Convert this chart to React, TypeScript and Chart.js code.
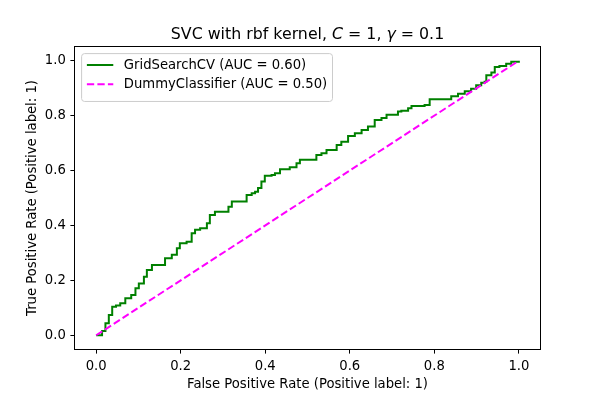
import React, { useEffect, useRef } from "react";
import { Chart, registerables } from "chart.js";

Chart.register(...registerables);

// ---- data ----
const gridFpr = [0, 0.014, 0.022, 0.030, 0.038, 0.047, 0.057, 0.069, 0.083, 0.093, 0.101, 0.113, 0.120, 0.132, 0.151, 0.163, 0.179, 0.191, 0.198, 0.214, 0.226, 0.234, 0.246, 0.262, 0.269, 0.281, 0.301, 0.313, 0.321, 0.352, 0.356, 0.368, 0.376, 0.383, 0.391, 0.399, 0.415, 0.423, 0.435, 0.458, 0.474, 0.482, 0.513, 0.521, 0.533, 0.545, 0.569, 0.580, 0.596, 0.612, 0.628, 0.643, 0.659, 0.675, 0.687, 0.714, 0.722, 0.738, 0.746, 0.777, 0.789, 0.836, 0.840, 0.856, 0.872, 0.887, 0.899, 0.911, 0.919, 0.923, 0.935, 0.943, 0.954, 0.970, 0.982, 1.0];
const gridTpr = [0, 0.016, 0.044, 0.074, 0.104, 0.108, 0.117, 0.135, 0.147, 0.171, 0.189, 0.213, 0.238, 0.256, 0.256, 0.281, 0.293, 0.317, 0.335, 0.341, 0.372, 0.384, 0.390, 0.408, 0.438, 0.450, 0.450, 0.468, 0.487, 0.487, 0.511, 0.517, 0.523, 0.536, 0.560, 0.581, 0.584, 0.590, 0.605, 0.612, 0.627, 0.639, 0.639, 0.657, 0.663, 0.675, 0.693, 0.705, 0.726, 0.736, 0.748, 0.760, 0.784, 0.791, 0.803, 0.815, 0.818, 0.827, 0.835, 0.839, 0.860, 0.860, 0.871, 0.880, 0.889, 0.898, 0.911, 0.920, 0.923, 0.947, 0.957, 0.977, 0.981, 0.989, 0.996, 1.0];
const dummyFpr = [0, 1];
const dummyTpr = [0, 1];
const tickValues = [0, 0.2, 0.4, 0.6, 0.8, 1.0];
const seriesLabels = ["GridSearchCV (AUC = 0.60)", "DummyClassifier (AUC = 0.50)"];
const seriesColors = ["#008000", "#ff00ff"];
const xLabel = "False Positive Rate (Positive label: 1)";
const yLabel = "True Positive Rate (Positive label: 1)";
// title pieces: [text, italic]
const titleParts: [string, boolean][] = [
  ["SVC with rbf kernel, ", false],
  ["C", true],
  [" = 1, ", false],
  ["γ", true],
  [" = 0.1", false],
];

const FONT = '"DejaVu Sans"';
const FS = 13.2;
const TITLE_FS = 15.8;
const DASH = [7.3, 3.2];

export default function App() {
  const ref = useRef<HTMLCanvasElement | null>(null);

  useEffect(() => {
    const canvas = ref.current;
    if (!canvas) return;

    const framePlugin = {
      id: "frame",
      afterDatasetsDraw(chart: any) {
        const { ctx, chartArea } = chart;
        ctx.save();
        ctx.strokeStyle = "#000";
        ctx.lineWidth = 1;
        const l = Math.round(chartArea.left) - 0.5;
        const t = Math.round(chartArea.top) - 0.5;
        const r = Math.round(chartArea.right) + 0.5;
        const b = Math.round(chartArea.bottom) + 0.5;
        ctx.strokeRect(l, t, r - l, b - t);
        ctx.restore();
      },
    };

    const legendPlugin = {
      id: "mplLegend",
      afterDraw(chart: any) {
        const { ctx, chartArea } = chart;
        ctx.save();
        const bx = chartArea.left + 6.6;
        const by = chartArea.top + 6.6;
        ctx.font = `${FS}px ${FONT}`;
        const tw = Math.max(...seriesLabels.map((s) => ctx.measureText(s).width));
        const pad = 0.4 * FS;
        const handle = 2 * FS;
        const gap = 0.8 * FS;
        const rowH = 19.3;
        const bw = pad + handle + gap + tw + pad;
        const bh = pad * 2 + rowH * seriesLabels.length - 5.3 + 4;
        const rad = 3;
        ctx.beginPath();
        ctx.moveTo(bx + rad, by);
        ctx.lineTo(bx + bw - rad, by);
        ctx.quadraticCurveTo(bx + bw, by, bx + bw, by + rad);
        ctx.lineTo(bx + bw, by + bh - rad);
        ctx.quadraticCurveTo(bx + bw, by + bh, bx + bw - rad, by + bh);
        ctx.lineTo(bx + rad, by + bh);
        ctx.quadraticCurveTo(bx, by + bh, bx, by + bh - rad);
        ctx.lineTo(bx, by + rad);
        ctx.quadraticCurveTo(bx, by, bx + rad, by);
        ctx.closePath();
        ctx.fillStyle = "rgba(255,255,255,0.8)";
        ctx.fill();
        ctx.strokeStyle = "#cccccc";
        ctx.lineWidth = 1;
        ctx.stroke();

        seriesLabels.forEach((label, i) => {
          const cy = by + 11.4 + i * rowH;
          const x0 = bx + pad;
          ctx.beginPath();
          ctx.strokeStyle = seriesColors[i];
          ctx.lineWidth = 2;
          ctx.setLineDash(i === 1 ? DASH : []);
          ctx.moveTo(x0, cy);
          ctx.lineTo(x0 + handle, cy);
          ctx.stroke();
          ctx.setLineDash([]);
          ctx.fillStyle = "#000";
          ctx.textBaseline = "middle";
          ctx.textAlign = "left";
          ctx.fillText(label, x0 + handle + gap, cy + 0.5);
        });
        ctx.restore();
      },
    };

    const titlePlugin = {
      id: "mplTitle",
      afterDraw(chart: any) {
        const { ctx, chartArea } = chart;
        ctx.save();
        const fontFor = (it: boolean) => `${it ? "oblique " : ""}${TITLE_FS}px ${FONT}`;
        let total = 0;
        const widths = titleParts.map(([t, it]) => {
          ctx.font = fontFor(it);
          const w = ctx.measureText(t).width;
          total += w;
          return w;
        });
        let x = (chartArea.left + chartArea.right) / 2 - total / 2;
        const y = chartArea.top - 8;
        ctx.fillStyle = "#000";
        ctx.textBaseline = "alphabetic";
        ctx.textAlign = "left";
        titleParts.forEach(([t, it], i) => {
          ctx.font = fontFor(it);
          ctx.fillText(t, x, y);
          x += widths[i];
        });
        ctx.restore();
      },
    };

    const tickOpts = {
      callback: (v: any) => Number(v).toFixed(1),
      padding: 4.6,
      font: { size: FS, family: FONT },
      color: "#000",
      maxRotation: 0,
      autoSkip: false,
    };
    const gridOpts = {
      drawOnChartArea: false,
      drawTicks: true,
      tickLength: 4.6,
      color: "#000",
      lineWidth: 1,
    };

    const chart = new Chart(canvas, {
      type: "line",
      data: {
        datasets: [
          {
            label: seriesLabels[0],
            data: gridFpr.map((x, i) => ({ x, y: gridTpr[i] })),
            borderColor: seriesColors[0],
            borderWidth: 2,
            pointRadius: 0,
            stepped: "before",
            fill: false,
            order: 1,
          },
          {
            label: seriesLabels[1],
            data: dummyFpr.map((x, i) => ({ x, y: dummyTpr[i] })),
            borderColor: seriesColors[1],
            borderWidth: 2,
            borderDash: DASH,
            pointRadius: 0,
            tension: 0,
            fill: false,
            order: 0,
          },
        ],
      },
      options: {
        responsive: false,
        animation: false,
        events: [],
        layout: { padding: { left: 0, right: 60, top: 47, bottom: 0 } },
        plugins: {
          legend: { display: false },
          title: { display: false },
          tooltip: { enabled: false },
        },
        scales: {
          x: {
            type: "linear",
            min: -0.05,
            max: 1.05,
            afterBuildTicks: (s: any) => {
              s.ticks = tickValues.map((v) => ({ value: v }));
            },
            afterFit: (s: any) => {
              s.height = 51;
            },
            ticks: tickOpts,
            grid: gridOpts,
            border: { display: false },
            title: {
              display: true,
              text: xLabel,
              color: "#000",
              font: { size: FS, family: FONT },
              padding: { top: 0, bottom: 8 },
            },
          },
          y: {
            type: "linear",
            min: -0.05,
            max: 1.05,
            afterBuildTicks: (s: any) => {
              s.ticks = tickValues.map((v) => ({ value: v }));
            },
            afterFit: (s: any) => {
              s.width = 75;
            },
            ticks: tickOpts,
            grid: gridOpts,
            border: { display: false },
            title: {
              display: true,
              text: yLabel,
              color: "#000",
              font: { size: FS, family: FONT },
              padding: { top: 25, bottom: 0 },
            },
          },
        },
      } as any,
      plugins: [framePlugin, legendPlugin, titlePlugin],
    });

    return () => chart.destroy();
  }, []);

  return (
    <div style={{ position: "fixed", left: 0, top: 0, width: 600, height: 400, background: "#fff" }}>
      <canvas ref={ref} width={600} height={400} style={{ display: "block" }} />
    </div>
  );
}
